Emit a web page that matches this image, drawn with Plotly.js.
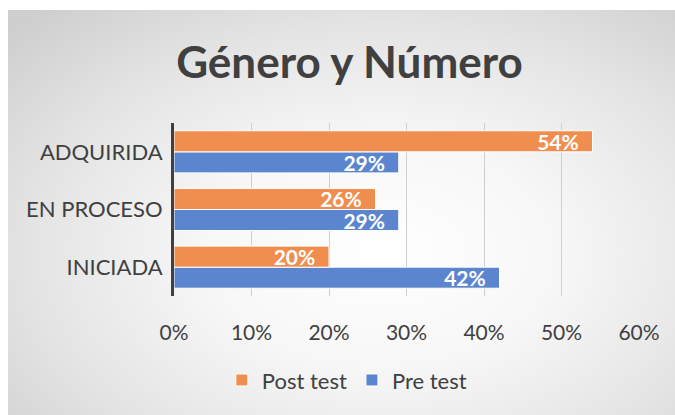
<!DOCTYPE html>
<html>
<head>
<meta charset="utf-8">
<script src="https://cdn.plot.ly/plotly-3.0.1.min.js"></script>
<style>
  html, body { margin: 0; padding: 0; background: #ffffff; width: 675px; height: 415px; overflow: hidden; }
  #bg { position: absolute; left: 8px; top: 10px; width: 667px; height: 405px;
        background: radial-gradient(ellipse 75% 80% at 56% 60%, #ffffff 0%, #f7f7f7 35%, #e4e4e4 70%, #cfcfcf 100%); }
  #chart { position: absolute; left: 8px; top: 10px; width: 667px; height: 405px; }
</style>
</head>
<body>
<div id="bg"></div>
<div id="chart"></div>
<script>
const categories = ["INICIADA", "EN PROCESO", "ADQUIRIDA"];
const preTest = [0.42, 0.29, 0.29];
const postTest = [0.20, 0.26, 0.54];
const xTicks = [0, 0.1, 0.2, 0.3, 0.4, 0.5, 0.6];
const xTickLabels = ["0%", "10%", "20%", "30%", "40%", "50%", "60%"];

const font = "Lato, 'Open Sans', sans-serif";

const traces = [
  {
    type: 'bar', orientation: 'h', name: 'Pre test',
    y: categories, x: preTest,
    marker: { color: '#5B86CF', line: { color: '#ffffff', width: 1 } },
    texttemplate: '<b>%{x:.0%}</b>\u00a0\u00a0', textposition: 'inside', insidetextanchor: 'end',
    constraintext: 'none', cliponaxis: false,
    textfont: { family: font, size: 21, color: '#ffffff' },
    hoverinfo: 'skip'
  },
  {
    type: 'bar', orientation: 'h', name: 'Post test',
    y: categories, x: postTest,
    marker: { color: '#EF8E4E', line: { color: '#ffffff', width: 1 } },
    texttemplate: '<b>%{x:.0%}</b>\u00a0\u00a0', textposition: 'inside', insidetextanchor: 'end',
    constraintext: 'none', cliponaxis: false,
    textfont: { family: font, size: 21, color: '#ffffff' },
    hoverinfo: 'skip'
  }
];

const layout = {
  width: 667, height: 405,
  paper_bgcolor: 'rgba(0,0,0,0)', plot_bgcolor: 'rgba(0,0,0,0)',
  margin: { l: 166, r: 36, t: 113, b: 119 },
  barmode: 'group', bargap: 0.27, bargroupgap: 0,
  title: {
    text: '<b>Género y Número</b>',
    font: { family: font, size: 44, color: '#404040' },
    xref: 'container', x: 0.512, xanchor: 'center',
    yref: 'container', y: 0.87, yanchor: 'middle'
  },
  xaxis: {
    range: [0, 0.6], tickvals: xTicks, ticktext: xTickLabels,
    showgrid: true, gridcolor: '#cfcfcf', gridwidth: 1,
    zeroline: false, showline: false, ticks: '',
    ticklabelstandoff: 22, automargin: false,
    tickfont: { family: font, size: 21, color: '#404040' },
    fixedrange: true
  },
  yaxis: {
    type: 'category', categoryarray: categories,
    showgrid: false, zeroline: false,
    showline: true, linecolor: '#404040', linewidth: 3,
    ticks: '', ticklabelstandoff: 4, automargin: false,
    tickfont: { family: font, size: 22, color: '#404040' },
    fixedrange: true
  },
  showlegend: true,
  legend: {
    orientation: 'h', traceorder: 'reversed',
    xref: 'container', x: 0.508, xanchor: 'center',
    yref: 'container', y: 0.086, yanchor: 'middle',
    font: { family: font, size: 22, color: '#404040' },
    bgcolor: 'rgba(0,0,0,0)', itemwidth: 30
  }
};

Plotly.newPlot('chart', traces, layout, { displayModeBar: false, staticPlot: true });
</script>
</body>
</html>
